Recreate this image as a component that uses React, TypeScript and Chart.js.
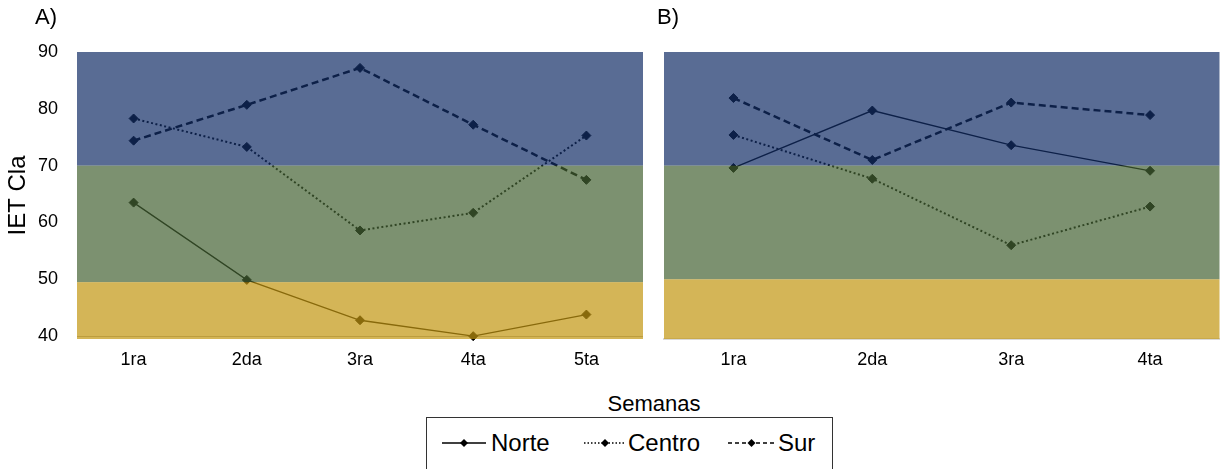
import React, { useEffect, useRef } from "react";
import { Chart, registerables } from "chart.js";

Chart.register(...registerables);

// ---- Data ----
const categoriesA = ["1ra", "2da", "3ra", "4ta", "5ta"];
const categoriesB = ["1ra", "2da", "3ra", "4ta"];

const norteA = [63.5, 49.9, 42.8, 40.0, 43.8];
const centroA = [78.3, 73.3, 58.6, 61.7, 75.3];
const surA = [74.4, 80.7, 87.2, 77.2, 67.5];

const norteB = [69.6, 79.7, 73.6, 69.1];
const centroB = [75.4, 67.7, 56.0, 62.8];
const surB = [81.9, 71.0, 81.1, 78.9];

const yTicks = [40, 50, 60, 70, 80, 90];
const yMin = 39.5;
const yMax = 90;

// band limits (IET class thresholds): [low, high] per band, top to bottom
const bandLimitsA = [
  [70, 90],
  [49.5, 70],
  [39.5, 49.5],
];
const bandLimitsB = [
  [70, 90],
  [50, 70],
  [39.5, 50],
];
const bandColors = [
  "rgba(19,45,102,0.7)",
  "rgba(69,98,51,0.7)",
  "rgba(194,149,16,0.7)",
];

const seriesNames = ["Norte", "Centro", "Sur"];

const FONT = '"Liberation Sans", Arial, sans-serif';

const bandPlugin = {
  id: "bands",
  afterDatasetsDraw(chart: any, _args: any, opts: any) {
    const { ctx, chartArea } = chart;
    const y = chart.scales.y;
    const limits = opts.limits as number[][];
    ctx.save();
    limits.forEach((lim, i) => {
      const top = y.getPixelForValue(lim[1]);
      const bottom = y.getPixelForValue(lim[0]);
      ctx.fillStyle = bandColors[i];
      ctx.fillRect(chartArea.left, top, chartArea.right - chartArea.left, bottom - top);
    });
    ctx.restore();
  },
};

function makeDatasets(norte: number[], centro: number[], sur: number[]) {
  const base = {
    borderColor: "#000",
    pointStyle: "rectRot",
    pointRadius: 4.5,
    pointBackgroundColor: "#000",
    pointBorderColor: "#000",
    pointBorderWidth: 1,
    tension: 0,
    fill: false,
    clip: false as any,
  };
  return [
    { ...base, label: seriesNames[0], data: norte, borderWidth: 1.3 },
    { ...base, label: seriesNames[1], data: centro, borderWidth: 2, borderDash: [2, 2.5] },
    { ...base, label: seriesNames[2], data: sur, borderWidth: 2.5, borderDash: [7, 4] },
  ];
}

function buildConfig(panel: "A" | "B"): any {
  const isA = panel === "A";
  return {
    type: "line",
    data: {
      labels: isA ? categoriesA : categoriesB,
      datasets: isA ? makeDatasets(norteA, centroA, surA) : makeDatasets(norteB, centroB, surB),
    },
    plugins: [bandPlugin],
    options: {
      responsive: false,
      animation: false,
      events: [],
      layout: {
        padding: isA ? { left: 0, top: 52, right: 12, bottom: 0 } : { left: 9, top: 52, right: 5, bottom: 0 },
      },
      plugins: {
        legend: { display: false },
        tooltip: { enabled: false },
        title: { display: false },
        bands: { limits: isA ? bandLimitsA : bandLimitsB },
      },
      scales: {
        x: {
          type: "category",
          offset: true,
          z: isA ? 0 : 1,
          grid: { display: false, drawTicks: false },
          border: isA ? { display: false } : { display: true, color: "#d9d9d9", width: 2 },
          ticks: { color: "#000", font: { family: FONT, size: 18 }, padding: 10, maxRotation: 0 },
          afterFit: (s: any) => {
            s.height = 51;
          },
        },
        y: {
          display: isA,
          min: yMin,
          max: yMax,
          afterBuildTicks: (s: any) => {
            s.ticks = yTicks.map((v) => ({ value: v }));
          },
          grid: {
            drawTicks: false,
            color: (c: any) => (c.tick && c.tick.value === 40 ? "rgba(110,110,110,0.55)" : "rgba(0,0,0,0)"),
            lineWidth: 1,
          },
          border: { display: false },
          ticks: { color: "#000", font: { family: FONT, size: 18 }, padding: 19 },
          title: {
            display: true,
            text: "IET Cla",
            color: "#000",
            font: { family: FONT, size: 24 },
            padding: { top: 4, bottom: 0 },
          },
          afterFit: (s: any) => {
            s.width = isA ? 77 : 0;
          },
        },
      },
    },
  };
}

function Panel({ panel, left, width }: { panel: "A" | "B"; left: number; width: number }) {
  const ref = useRef<HTMLCanvasElement | null>(null);
  useEffect(() => {
    if (!ref.current) return;
    const chart = new Chart(ref.current, buildConfig(panel));
    return () => chart.destroy();
  }, [panel]);
  return (
    <canvas
      ref={ref}
      width={width}
      height={390}
      style={{ position: "absolute", left, top: 0, width, height: 390 }}
    />
  );
}

function Sample({ x1, x2, y, dash, width }: { x1: number; x2: number; y: number; dash?: string; width: number }) {
  const cx = (x1 + x2) / 2;
  return (
    <svg
      width={x2 - x1 + 4}
      height={14}
      style={{ position: "absolute", left: x1 - 2, top: y - 7 }}
    >
      <line x1={2} y1={7} x2={x2 - x1 + 2} y2={7} stroke="#000" strokeWidth={width} strokeDasharray={dash} />
      <polygon
        points={`${cx - x1 + 2 - 4},7 ${cx - x1 + 2},3 ${cx - x1 + 2 + 4},7 ${cx - x1 + 2},11`}
        fill="#000"
      />
    </svg>
  );
}

const textStyle = (left: number, top: number, size: number): React.CSSProperties => ({
  position: "absolute",
  left,
  top,
  fontSize: size,
  lineHeight: 1,
  fontFamily: FONT,
  color: "#000",
  whiteSpace: "nowrap",
});

export default function App() {
  return (
    <div
      style={{
        position: "fixed",
        left: 0,
        top: 0,
        width: 1225,
        height: 469,
        overflow: "hidden",
        background: "#fff",
        fontFamily: FONT,
      }}
    >
      <Panel panel="A" left={0} width={655} />
      <Panel panel="B" left={655} width={570} />
      <div style={textStyle(35, 6, 22)}>A)</div>
      <div style={textStyle(657, 6, 22)}>B)</div>
      <div style={{ ...textStyle(554, 393, 22), width: 200, textAlign: "center" }}>Semanas</div>
      <div
        style={{
          position: "absolute",
          left: 426,
          top: 417,
          width: 407,
          height: 80,
          border: "1.5px solid #333",
          boxSizing: "border-box",
        }}
      />
      <Sample x1={442} x2={486} y={443} width={1.3} />
      <div style={textStyle(491, 431, 24)}>{seriesNames[0]}</div>
      <Sample x1={584} x2={626} y={443} width={1.5} dash="1.5 2" />
      <div style={textStyle(628, 431, 24)}>{seriesNames[1]}</div>
      <Sample x1={728} x2={775} y={443} width={1.6} dash="4 3" />
      <div style={textStyle(778, 431, 24)}>{seriesNames[2]}</div>
    </div>
  );
}
